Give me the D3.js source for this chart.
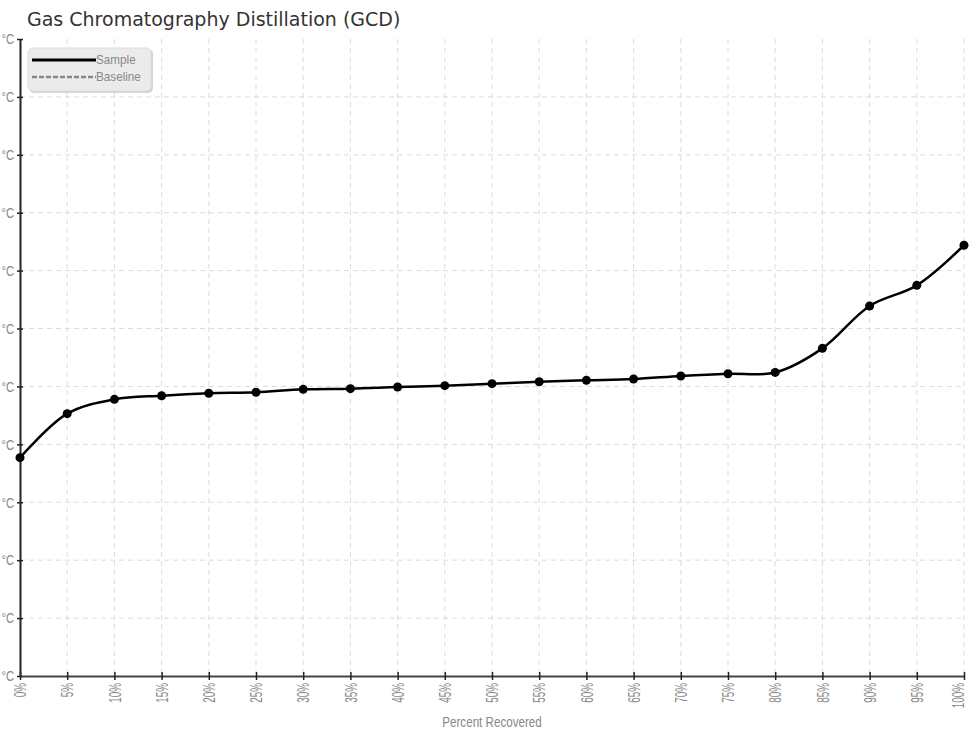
<!DOCTYPE html>
<html>
<head>
<meta charset="utf-8">
<script src="https://cdn.jsdelivr.net/npm/d3@7"></script>
<style>
  html, body { margin: 0; padding: 0; background: #fff; }
  svg { display: block; }
</style>
</head>
<body>
<svg id="chart" width="969" height="739"></svg>
<script>
// ---- data ----
const percents = [0,5,10,15,20,25,30,35,40,45,50,55,60,65,70,75,80,85,90,95,100];
const sampleTemps = [188.5,226.5,238.9,242.0,244.1,245.0,247.5,248.1,249.5,250.7,252.4,254.1,255.3,256.4,259.0,261.0,262.1,282.9,319.5,337.3,371.9];
const baselineTemps = [];
const yTicks = [0,50,100,150,200,250,300,350,400,450,500,550];
const yTickLabel = "°C";
const xTicks = percents;
const seriesNames = ["Sample", "Baseline"];
const titleText = "Gas Chromatography Distillation (GCD)";
const xAxisTitle = "Percent Recovered";

const svg = d3.select("#chart");
const sans = "'Liberation Sans', Arial, sans-serif";

const x = d3.scaleLinear().domain([0, 100]).range([20, 964]);
const y = d3.scaleLinear().domain([0, 550]).range([676, 39]);

// title
svg.append("text")
  .attr("x", 27).attr("y", 26)
  .attr("font-family", "'DejaVu Sans', Verdana, sans-serif")
  .attr("font-size", 19)
  .attr("fill", "#333")
  .text(titleText);

// grid
const grid = svg.append("g");
grid.selectAll("line.h").data(yTicks.filter(d => d > 0 && d < 550)).join("line")
  .attr("x1", 20).attr("x2", 964)
  .attr("y1", d => y(d)).attr("y2", d => y(d))
  .attr("stroke", "#dcdcdc").attr("stroke-width", 1).attr("stroke-dasharray", "5,4");
grid.selectAll("line.v").data(xTicks.filter(d => d > 0)).join("line")
  .attr("x1", d => x(d)).attr("x2", d => x(d))
  .attr("y1", 39).attr("y2", 676)
  .attr("stroke", "#dcdcdc").attr("stroke-width", 1).attr("stroke-dasharray", "5,4");

// y axis
const yAxis = svg.append("g").attr("transform", "translate(20,0)")
  .call(d3.axisLeft(y).tickValues(yTicks).tickSize(3).tickSizeOuter(0).tickFormat(() => yTickLabel));
yAxis.select(".domain").attr("stroke", "#222").attr("stroke-width", 2);
yAxis.selectAll(".tick line").attr("stroke", "#222").attr("stroke-width", 1.5).attr("x2", 3).attr("x1", -3);
yAxis.selectAll(".tick text")
  .attr("font-family", sans).attr("font-size", 15).attr("fill", "#888")
  .attr("text-anchor", "end")
  .attr("x", -6 / 0.75)
  .attr("transform", "scale(0.75,1)");

// x axis
const xAxis = svg.append("g").attr("transform", "translate(0,676)")
  .call(d3.axisBottom(x).tickValues(xTicks).tickSize(4).tickSizeOuter(0).tickFormat(d => d + "%"));
xAxis.select(".domain").attr("stroke", "#444").attr("stroke-width", 2);
xAxis.selectAll(".tick line").attr("stroke", "#222").attr("stroke-width", 1.5).attr("y1", -4).attr("y2", 4);
xAxis.selectAll(".tick text")
  .attr("font-family", sans).attr("font-size", 16).attr("fill", "#888")
  .attr("text-anchor", "end").attr("dy", "0.35em")
  .attr("x", 0).attr("y", 0)
  .attr("transform", d => `translate(${d === 100 ? -6 : 0},7) rotate(-90) scale(0.62,1)`);

svg.append("text")
  .attr("transform", `translate(${(x(0) + x(100)) / 2},727) scale(0.83,1)`)
  .attr("text-anchor", "middle")
  .attr("font-family", sans).attr("font-size", 14).attr("fill", "#888")
  .text(xAxisTitle);

// series
const pts = percents.map((p, i) => ({p, t: sampleTemps[i]}));
const line = d3.line().x(d => x(d.p)).y(d => y(d.t)).curve(d3.curveCatmullRom);
svg.append("path").datum(pts)
  .attr("d", line).attr("fill", "none").attr("stroke", "#000").attr("stroke-width", 2.5);
svg.append("g").selectAll("circle").data(pts).join("circle")
  .attr("cx", d => x(d.p)).attr("cy", d => y(d.t)).attr("r", 4.5).attr("fill", "#000");

const bpts = baselineTemps.map((t, i) => ({p: percents[i], t}));
if (bpts.length) {
  svg.append("path").datum(bpts)
    .attr("d", line).attr("fill", "none").attr("stroke", "#888").attr("stroke-width", 2).attr("stroke-dasharray", "5,3");
}

// legend
const lg = svg.append("g").attr("transform", "translate(28,48)");
lg.append("rect").attr("x", 1).attr("y", 1).attr("width", 124).attr("height", 44).attr("rx", 5)
  .attr("fill", "#d4d4d4");
lg.append("rect").attr("x", 0).attr("y", 0).attr("width", 123).attr("height", 43).attr("rx", 5)
  .attr("fill", "#ebebeb").attr("stroke", "#dedede");
const items = lg.selectAll("g.item").data(seriesNames).join("g")
  .attr("transform", (d, i) => `translate(0,${12 + i * 17})`);
items.append("line").attr("x1", 4).attr("x2", 68).attr("y1", 0).attr("y2", 0)
  .attr("stroke", (d, i) => i === 0 ? "#000" : "#888")
  .attr("stroke-width", (d, i) => i === 0 ? 3 : 2.5)
  .attr("stroke-dasharray", (d, i) => i === 0 ? null : "5,2");
items.append("text")
  .attr("transform", "translate(68,4) scale(0.9,1)")
  .attr("font-family", sans).attr("font-size", 13).attr("fill", "#888")
  .text(d => d);
</script>
</body>
</html>
